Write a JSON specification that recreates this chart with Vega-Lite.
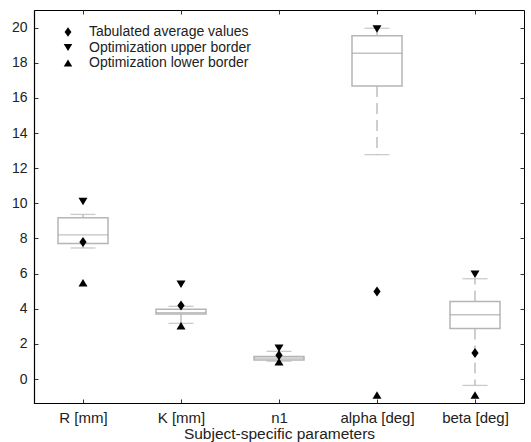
{
  "$schema": "https://vega.github.io/schema/vega-lite/v6.json",
  "width": 490,
  "height": 393,
  "autosize": {"type": "none"},
  "padding": {"left": 34, "top": 10, "right": 7, "bottom": 39},
  "background": "white",
  "config": {
    "font": "Liberation Sans",
    "view": {"stroke": "black", "strokeWidth": 1},
    "axis": {"labelFontSize": 14, "labelColor": "#222", "domainColor": "black", "tickColor": "#333", "grid": false, "labelFont": "Liberation Sans", "titleFont": "Liberation Sans"}
  },
  "datasets": {
    "boxes": [
      {"cat": "R [mm]", "lower": 7.46, "q1": 7.72, "median": 8.21, "q3": 9.18, "upper": 9.37},
      {"cat": "K [mm]", "lower": 3.17, "q1": 3.70, "median": 3.78, "q3": 3.97, "upper": 4.14},
      {"cat": "n1", "lower": 1.02, "q1": 1.08, "median": 1.19, "q3": 1.29, "upper": 1.58},
      {"cat": "alpha [deg]", "lower": 12.77, "q1": 16.68, "median": 18.54, "q3": 19.54, "upper": 19.96},
      {"cat": "beta [deg]", "lower": -0.36, "q1": 2.88, "median": 3.66, "q3": 4.42, "upper": 5.71}
    ],
    "markers": [
      {"cat": "R [mm]", "type": "Tabulated average values", "value": 7.8},
      {"cat": "R [mm]", "type": "Optimization upper border", "value": 10.11},
      {"cat": "R [mm]", "type": "Optimization lower border", "value": 5.48},
      {"cat": "K [mm]", "type": "Tabulated average values", "value": 4.19},
      {"cat": "K [mm]", "type": "Optimization upper border", "value": 5.39},
      {"cat": "K [mm]", "type": "Optimization lower border", "value": 3.03},
      {"cat": "n1", "type": "Tabulated average values", "value": 1.35},
      {"cat": "n1", "type": "Optimization upper border", "value": 1.76},
      {"cat": "n1", "type": "Optimization lower border", "value": 0.98},
      {"cat": "alpha [deg]", "type": "Tabulated average values", "value": 4.99},
      {"cat": "alpha [deg]", "type": "Optimization upper border", "value": 19.92},
      {"cat": "alpha [deg]", "type": "Optimization lower border", "value": -0.91},
      {"cat": "beta [deg]", "type": "Tabulated average values", "value": 1.48},
      {"cat": "beta [deg]", "type": "Optimization upper border", "value": 5.96},
      {"cat": "beta [deg]", "type": "Optimization lower border", "value": -0.91}
    ]
  },
  "layer": [
    {
      "data": {"name": "boxes"},
      "mark": {"type": "rule", "color": "#b5b5b5", "strokeWidth": 1.3, "strokeDash": [11, 6]},
      "encoding": {
        "x": {
          "field": "cat", "type": "nominal", "sort": null,
          "scale": {"type": "point", "padding": 0.5, "domain": ["R [mm]", "K [mm]", "n1", "alpha [deg]", "beta [deg]"]},
          "axis": {"title": "Subject-specific parameters", "titleFontSize": 15.5, "titleFontWeight": "normal", "titleColor": "#222", "labelFontSize": 15, "labelAngle": 0, "tickSize": -4, "labelPadding": 11, "titlePadding": 1, "domainWidth": 1.2}
        },
        "y": {"field": "q1", "type": "quantitative",
          "scale": {"domain": [-1.36, 21], "nice": false, "zero": false},
          "axis": {"title": null, "values": [0, 2, 4, 6, 8, 10, 12, 14, 16, 18, 20], "tickSize": -4, "labelPadding": 11, "domainWidth": 1.2}},
        "y2": {"field": "lower"}
      }
    },
    {
      "data": {"name": "boxes"},
      "mark": {"type": "rule", "color": "#b5b5b5", "strokeWidth": 1.3, "strokeDash": [11, 6]},
      "encoding": {"x": {"field": "cat", "type": "nominal", "sort": null, "axis": null}, "y": {"field": "q3", "type": "quantitative", "axis": null}, "y2": {"field": "upper"}}
    },
    {
      "data": {"name": "boxes"},
      "mark": {"type": "tick", "color": "#b5b5b5", "thickness": 1.3, "size": 25},
      "encoding": {"x": {"field": "cat", "type": "nominal", "sort": null, "axis": null}, "y": {"field": "lower", "type": "quantitative", "axis": null}}
    },
    {
      "data": {"name": "boxes"},
      "mark": {"type": "tick", "color": "#b5b5b5", "thickness": 1.3, "size": 25},
      "encoding": {"x": {"field": "cat", "type": "nominal", "sort": null, "axis": null}, "y": {"field": "upper", "type": "quantitative", "axis": null}}
    },
    {
      "data": {"name": "boxes"},
      "mark": {"type": "bar", "fill": "white", "stroke": "#b5b5b5", "strokeWidth": 1.5, "size": 50},
      "encoding": {"x": {"field": "cat", "type": "nominal", "sort": null, "axis": null}, "y": {"field": "q1", "type": "quantitative", "axis": null}, "y2": {"field": "q3"}}
    },
    {
      "data": {"name": "boxes"},
      "mark": {"type": "tick", "color": "#a8a8a8", "thickness": 1.3, "size": 50},
      "encoding": {"x": {"field": "cat", "type": "nominal", "sort": null, "axis": null}, "y": {"field": "median", "type": "quantitative", "axis": null}}
    },
    {
      "data": {"name": "markers"},
      "mark": {"type": "point", "filled": true, "color": "black", "opacity": 1, "size": 100},
      "encoding": {
        "x": {"field": "cat", "type": "nominal", "sort": null, "axis": null},
        "y": {"field": "value", "type": "quantitative", "axis": null},
        "shape": {
          "field": "type", "type": "nominal",
          "scale": {
            "domain": ["Tabulated average values", "Optimization upper border", "Optimization lower border"],
            "range": ["M0,-1L0.72,0L0,1L-0.72,0Z", "M-0.9,-0.75L0.9,-0.75L0,0.75Z", "M-0.9,0.75L0.9,0.75L0,-0.75Z"]
          },
          "legend": {
            "title": null, "orient": "none", "legendX": 27, "legendY": 15, "padding": 0,
            "labelFontSize": 14, "labelColor": "#222", "labelFont": "Liberation Sans", "labelLimit": 300,
            "symbolFillColor": "black", "symbolStrokeWidth": 0, "symbolSize": 90,
            "labelOffset": 14, "rowPadding": 1.5
          }
        }
      }
    },
    {
      "data": {"name": "boxes"},
      "mark": {"type": "rule", "opacity": 0},
      "encoding": {
        "x": {"field": "cat", "type": "nominal", "sort": null, "axis": {"orient": "top", "title": null, "labels": false, "domain": false, "tickSize": -4}},
        "y": {"field": "q1", "type": "quantitative", "axis": {"orient": "right", "title": null, "labels": false, "domain": false, "values": [0, 2, 4, 6, 8, 10, 12, 14, 16, 18, 20], "tickSize": -4}}
      }
    }
  ],
  "resolve": {"axis": {"y": "independent", "x": "independent"}}
}
